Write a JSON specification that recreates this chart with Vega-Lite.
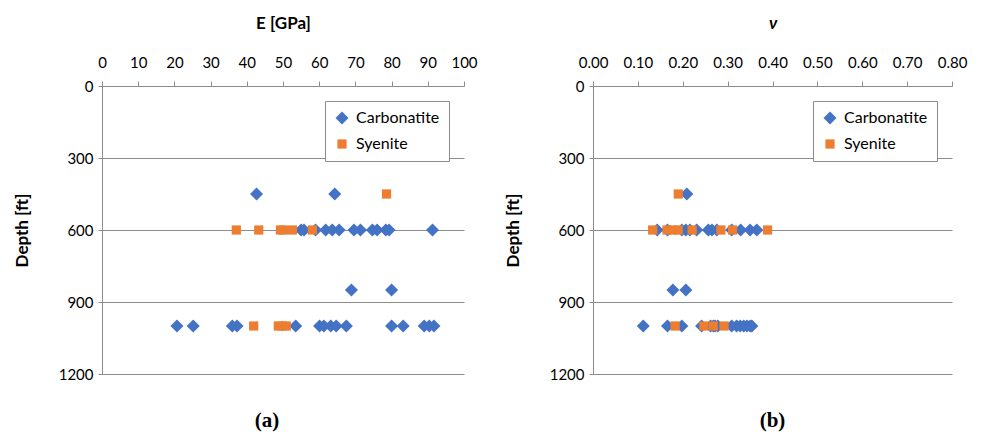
{
  "$schema": "https://vega.github.io/schema/vega-lite/v6.json",
  "background": "white",
  "padding": {"left": 13, "top": 14, "right": 10, "bottom": 5},
  "spacing": 26,
  "config": {
    "font": "Lato",
    "view": {"stroke": null},
    "axis": {
      "labelFont": "Lato", "labelFontSize": 15, "labelColor": "#000000",
      "titleFont": "Lato", "titleFontSize": 17, "titleFontWeight": "bold", "titleColor": "#000000",
      "domainColor": "#8c8c8c", "tickColor": "#8c8c8c", "gridColor": "#8c8c8c", "gridOpacity": 1, "tickSize": 5
    },
    "legend": {
      "strokeColor": "#8c8c8c", "fillColor": "white", "padding": 9,
      "labelFont": "Lato", "labelFontSize": 16, "labelColor": "#000000",
      "symbolSize": 170, "rowPadding": 10, "labelOffset": 6, "symbolStrokeWidth": 0, "symbolOpacity": 1
    },
    "title": {"font": "Liberation Serif", "fontSize": 21, "fontWeight": "bold", "orient": "bottom", "offset": 28, "color": "#000000"}
  },
  "datasets": {
    "E": [
      {"rock": "Carbonatite", "depth": 450, "E": 42.7},
      {"rock": "Carbonatite", "depth": 450, "E": 64.3},
      {"rock": "Carbonatite", "depth": 600, "E": 55.0},
      {"rock": "Carbonatite", "depth": 600, "E": 55.8},
      {"rock": "Carbonatite", "depth": 600, "E": 59.0},
      {"rock": "Carbonatite", "depth": 600, "E": 61.8},
      {"rock": "Carbonatite", "depth": 600, "E": 63.6},
      {"rock": "Carbonatite", "depth": 600, "E": 65.5},
      {"rock": "Carbonatite", "depth": 600, "E": 69.6},
      {"rock": "Carbonatite", "depth": 600, "E": 71.4},
      {"rock": "Carbonatite", "depth": 600, "E": 74.7},
      {"rock": "Carbonatite", "depth": 600, "E": 76.0},
      {"rock": "Carbonatite", "depth": 600, "E": 78.4},
      {"rock": "Carbonatite", "depth": 600, "E": 79.3},
      {"rock": "Carbonatite", "depth": 600, "E": 91.3},
      {"rock": "Carbonatite", "depth": 850, "E": 68.9},
      {"rock": "Carbonatite", "depth": 850, "E": 80.0},
      {"rock": "Carbonatite", "depth": 1000, "E": 20.7},
      {"rock": "Carbonatite", "depth": 1000, "E": 25.2},
      {"rock": "Carbonatite", "depth": 1000, "E": 36.0},
      {"rock": "Carbonatite", "depth": 1000, "E": 37.3},
      {"rock": "Carbonatite", "depth": 1000, "E": 53.5},
      {"rock": "Carbonatite", "depth": 1000, "E": 60.1},
      {"rock": "Carbonatite", "depth": 1000, "E": 61.3},
      {"rock": "Carbonatite", "depth": 1000, "E": 63.2},
      {"rock": "Carbonatite", "depth": 1000, "E": 64.7},
      {"rock": "Carbonatite", "depth": 1000, "E": 67.5},
      {"rock": "Carbonatite", "depth": 1000, "E": 80.0},
      {"rock": "Carbonatite", "depth": 1000, "E": 83.2},
      {"rock": "Carbonatite", "depth": 1000, "E": 89.0},
      {"rock": "Carbonatite", "depth": 1000, "E": 90.4},
      {"rock": "Carbonatite", "depth": 1000, "E": 91.7},
      {"rock": "Syenite", "depth": 450, "E": 78.6},
      {"rock": "Syenite", "depth": 600, "E": 37.1},
      {"rock": "Syenite", "depth": 600, "E": 43.3},
      {"rock": "Syenite", "depth": 600, "E": 49.3},
      {"rock": "Syenite", "depth": 600, "E": 50.2},
      {"rock": "Syenite", "depth": 600, "E": 52.6},
      {"rock": "Syenite", "depth": 600, "E": 58.1},
      {"rock": "Syenite", "depth": 1000, "E": 41.9},
      {"rock": "Syenite", "depth": 1000, "E": 48.7},
      {"rock": "Syenite", "depth": 1000, "E": 49.8},
      {"rock": "Syenite", "depth": 1000, "E": 50.9}
    ],
    "nu": [
      {"rock": "Carbonatite", "depth": 450, "nu": 0.209},
      {"rock": "Carbonatite", "depth": 600, "nu": 0.143},
      {"rock": "Carbonatite", "depth": 600, "nu": 0.166},
      {"rock": "Carbonatite", "depth": 600, "nu": 0.198},
      {"rock": "Carbonatite", "depth": 600, "nu": 0.207},
      {"rock": "Carbonatite", "depth": 600, "nu": 0.216},
      {"rock": "Carbonatite", "depth": 600, "nu": 0.231},
      {"rock": "Carbonatite", "depth": 600, "nu": 0.257},
      {"rock": "Carbonatite", "depth": 600, "nu": 0.265},
      {"rock": "Carbonatite", "depth": 600, "nu": 0.276},
      {"rock": "Carbonatite", "depth": 600, "nu": 0.309},
      {"rock": "Carbonatite", "depth": 600, "nu": 0.329},
      {"rock": "Carbonatite", "depth": 600, "nu": 0.350},
      {"rock": "Carbonatite", "depth": 600, "nu": 0.365},
      {"rock": "Carbonatite", "depth": 850, "nu": 0.178},
      {"rock": "Carbonatite", "depth": 850, "nu": 0.207},
      {"rock": "Carbonatite", "depth": 1000, "nu": 0.112},
      {"rock": "Carbonatite", "depth": 1000, "nu": 0.166},
      {"rock": "Carbonatite", "depth": 1000, "nu": 0.198},
      {"rock": "Carbonatite", "depth": 1000, "nu": 0.242},
      {"rock": "Carbonatite", "depth": 1000, "nu": 0.262},
      {"rock": "Carbonatite", "depth": 1000, "nu": 0.268},
      {"rock": "Carbonatite", "depth": 1000, "nu": 0.272},
      {"rock": "Carbonatite", "depth": 1000, "nu": 0.278},
      {"rock": "Carbonatite", "depth": 1000, "nu": 0.309},
      {"rock": "Carbonatite", "depth": 1000, "nu": 0.320},
      {"rock": "Carbonatite", "depth": 1000, "nu": 0.328},
      {"rock": "Carbonatite", "depth": 1000, "nu": 0.336},
      {"rock": "Carbonatite", "depth": 1000, "nu": 0.343},
      {"rock": "Carbonatite", "depth": 1000, "nu": 0.350},
      {"rock": "Carbonatite", "depth": 1000, "nu": 0.354},
      {"rock": "Syenite", "depth": 450, "nu": 0.190},
      {"rock": "Syenite", "depth": 600, "nu": 0.133},
      {"rock": "Syenite", "depth": 600, "nu": 0.165},
      {"rock": "Syenite", "depth": 600, "nu": 0.178},
      {"rock": "Syenite", "depth": 600, "nu": 0.190},
      {"rock": "Syenite", "depth": 600, "nu": 0.221},
      {"rock": "Syenite", "depth": 600, "nu": 0.285},
      {"rock": "Syenite", "depth": 600, "nu": 0.311},
      {"rock": "Syenite", "depth": 600, "nu": 0.389},
      {"rock": "Syenite", "depth": 1000, "nu": 0.183},
      {"rock": "Syenite", "depth": 1000, "nu": 0.247},
      {"rock": "Syenite", "depth": 1000, "nu": 0.268},
      {"rock": "Syenite", "depth": 1000, "nu": 0.292}
    ]
  },
  "hconcat": [
    {
      "width": 362, "height": 288,
      "title": {"text": "(a)", "dx": -16},
      "data": {"name": "E"},
      "mark": {"type": "point", "filled": true, "opacity": 1},
      "encoding": {
        "x": {"field": "E", "type": "quantitative",
          "scale": {"domain": [0, 100], "nice": false},
          "axis": {"orient": "top", "title": "E [GPa]", "values": [0, 10, 20, 30, 40, 50, 60, 70, 80, 90, 100], "grid": false, "labelPadding": 11, "titlePadding": 23, "labelFlush": false}},
        "y": {"field": "depth", "type": "quantitative",
          "scale": {"domain": [0, 1200], "reverse": true, "nice": false},
          "axis": {"title": "Depth [ft]", "format": "d", "values": [0, 300, 600, 900, 1200], "grid": true, "titlePadding": 27, "labelPadding": 5, "tickSize": 4, "labelFlush": false}},
        "color": {"field": "rock", "type": "nominal",
          "scale": {"domain": ["Carbonatite", "Syenite"], "range": ["#4472C4", "#ED7D31"]},
          "legend": {"title": null, "orient": "top-right", "offset": 15}},
        "shape": {"field": "rock", "type": "nominal",
          "scale": {"domain": ["Carbonatite", "Syenite"], "range": ["diamond", "square"]}},
        "size": {"field": "rock", "type": "nominal",
          "scale": {"domain": ["Carbonatite", "Syenite"], "range": [170, 85]}, "legend": null}
      }
    },
    {
      "width": 359, "height": 288,
      "title": {"text": "(b)"},
      "data": {"name": "nu"},
      "mark": {"type": "point", "filled": true, "opacity": 1},
      "encoding": {
        "x": {"field": "nu", "type": "quantitative",
          "scale": {"domain": [0, 0.8], "nice": false},
          "axis": {"orient": "top", "title": "ν", "titleFontStyle": "italic", "format": ".2f", "values": [0, 0.1, 0.2, 0.3, 0.4, 0.5, 0.6, 0.7, 0.8], "grid": false, "labelPadding": 11, "titlePadding": 23, "labelFlush": false}},
        "y": {"field": "depth", "type": "quantitative",
          "scale": {"domain": [0, 1200], "reverse": true, "nice": false},
          "axis": {"title": "Depth [ft]", "format": "d", "values": [0, 300, 600, 900, 1200], "grid": true, "titlePadding": 27, "labelPadding": 5, "tickSize": 4, "labelFlush": false}},
        "color": {"field": "rock", "type": "nominal",
          "scale": {"domain": ["Carbonatite", "Syenite"], "range": ["#4472C4", "#ED7D31"]},
          "legend": {"title": null, "orient": "top-right", "offset": 15}},
        "shape": {"field": "rock", "type": "nominal",
          "scale": {"domain": ["Carbonatite", "Syenite"], "range": ["diamond", "square"]}},
        "size": {"field": "rock", "type": "nominal",
          "scale": {"domain": ["Carbonatite", "Syenite"], "range": [170, 85]}, "legend": null}
      }
    }
  ],
  "resolve": {"scale": {"x": "independent", "y": "independent", "color": "independent", "shape": "independent", "size": "independent"}, "legend": {"color": "independent", "shape": "independent"}}
}
